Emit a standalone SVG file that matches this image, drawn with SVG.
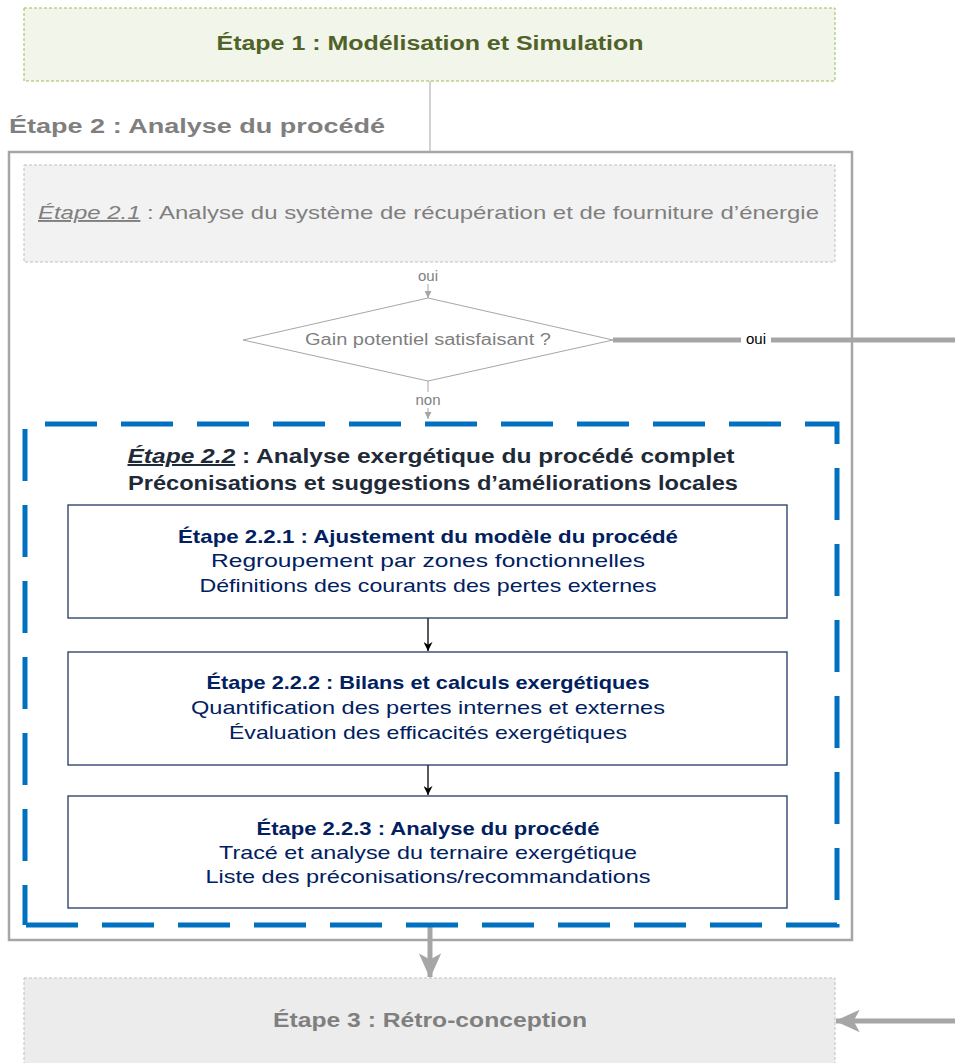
<svg xmlns="http://www.w3.org/2000/svg" width="955" height="1063" viewBox="0 0 955 1063">
<style>
.sans{font-family:"Liberation Sans","DejaVu Sans",sans-serif}
.gray{fill:#7f7f7f}
.navy{fill:#002060;font-family:"Liberation Sans","DejaVu Sans",sans-serif}
.dark{fill:#1f2a38;font-family:"Liberation Sans","DejaVu Sans",sans-serif;font-weight:bold}
.sub{fill:none;stroke:#1f3864;stroke-width:1.3}
.blue{fill:none;stroke:#0070c0;stroke-width:5;stroke-dasharray:52,24}
</style>
<defs>
<marker id="ah" viewBox="0 0 10 10" refX="10" refY="5" markerWidth="7" markerHeight="7" markerUnits="userSpaceOnUse" orient="auto"><path d="M0,0 L10,5 L0,10 z" fill="#a6a6a6"/></marker>
<marker id="ahb" viewBox="0 0 10 10" refX="10" refY="5" markerWidth="9" markerHeight="9" markerUnits="userSpaceOnUse" orient="auto"><path d="M0,0 L10,5 L0,10 L3,5 z" fill="#000"/></marker>
<marker id="ahg" viewBox="0 0 10 9" refX="9.5" refY="4.5" markerWidth="5" markerHeight="4.5" orient="auto"><path d="M0,0 L10,4.5 L0,9 L2.5,4.5 z" fill="#a6a6a6"/></marker>
</defs>
<rect width="955" height="1063" fill="#fff"/>

<g id="connectors">
<line x1="430" y1="81" x2="430" y2="151" stroke="#a6a6a6" stroke-width="1"/>
<line x1="428" y1="284" x2="428" y2="298" stroke="#a6a6a6" stroke-width="1" marker-end="url(#ah)"/>
<line x1="428" y1="381" x2="428" y2="392" stroke="#a6a6a6" stroke-width="1"/>
<line x1="428" y1="408" x2="428" y2="419" stroke="#a6a6a6" stroke-width="1" marker-end="url(#ah)"/>
<line x1="613" y1="340" x2="955" y2="340" stroke="#a6a6a6" stroke-width="5"/>
<rect x="741" y="331" width="30" height="16" fill="#fff"/>
<text x="756" y="344" text-anchor="middle" class="sans" font-size="15" fill="#000">oui</text>
<line x1="428" y1="618" x2="428" y2="651" stroke="#000" stroke-width="1.3" marker-end="url(#ahb)"/>
<line x1="428" y1="765" x2="428" y2="795" stroke="#000" stroke-width="1.3" marker-end="url(#ahb)"/>
<line x1="430" y1="926" x2="430" y2="977" stroke="#a6a6a6" stroke-width="5" marker-end="url(#ahg)"/>
<line x1="955" y1="1021" x2="836" y2="1021" stroke="#a6a6a6" stroke-width="5" marker-end="url(#ahg)"/>
<text x="428" y="281" text-anchor="middle" class="sans gray" font-size="15">oui</text>
<text x="428" y="405" text-anchor="middle" class="sans gray" font-size="15">non</text>
</g>

<g id="etape1">
<rect x="24" y="8" width="811" height="73" fill="#f2f5ea" stroke="#9bbb59" stroke-width="1" stroke-dasharray="3,2"/>
<text x="430" y="50" text-anchor="middle" class="sans" font-size="20" font-weight="bold" fill="#4f6228" textLength="427" lengthAdjust="spacingAndGlyphs">Étape 1 : Modélisation et Simulation</text>
</g>

<g id="etape2">
<text x="9" y="133" class="sans gray" font-size="20" font-weight="bold" textLength="376" lengthAdjust="spacingAndGlyphs">Étape 2 : Analyse du procédé</text>
<rect x="9" y="152" width="843" height="788" fill="none" stroke="#a6a6a6" stroke-width="2.5"/>
</g>

<g id="etape21">
<rect x="24" y="165" width="811" height="97" fill="#f2f2f2" stroke="#bfbfbf" stroke-width="1" stroke-dasharray="3,2"/>
<text x="38" y="219" class="sans gray" font-size="19" textLength="781" lengthAdjust="spacingAndGlyphs"><tspan font-style="italic" text-decoration="underline">Étape 2.1</tspan> : Analyse du système de récupération et de fourniture d’énergie</text>
</g>

<g id="decision">
<polygon points="243,340 428,298 613,340 428,381" fill="#fff" stroke="#a6a6a6" stroke-width="1"/>
<text x="428" y="345" text-anchor="middle" class="sans gray" font-size="16" textLength="246" lengthAdjust="spacingAndGlyphs">Gain potentiel satisfaisant ?</text>
</g>

<g id="etape22">
<path d="M25,424 H837 V925 H25" class="blue" stroke-dashoffset="56"/>
<path d="M25,424 V925" class="blue" stroke-dashoffset="71"/>
<text x="431" y="463" text-anchor="middle" class="dark" font-size="20" textLength="607" lengthAdjust="spacingAndGlyphs"><tspan font-style="italic" text-decoration="underline">Étape 2.2</tspan> : Analyse exergétique du procédé complet</text>
<text x="433" y="490" text-anchor="middle" class="dark" font-size="20" textLength="610" lengthAdjust="spacingAndGlyphs">Préconisations et suggestions d’améliorations locales</text>
</g>

<g id="etape221">
<rect x="68" y="505" width="719" height="113" fill="#fff" class="sub"/>
<text x="428" y="543" text-anchor="middle" class="navy" font-size="19" font-weight="bold" textLength="500" lengthAdjust="spacingAndGlyphs">Étape 2.2.1 : Ajustement du modèle du procédé</text>
<text x="428" y="567" text-anchor="middle" class="navy" font-size="19" textLength="434" lengthAdjust="spacingAndGlyphs">Regroupement par zones fonctionnelles</text>
<text x="428" y="592" text-anchor="middle" class="navy" font-size="19" textLength="457" lengthAdjust="spacingAndGlyphs">Définitions des courants des pertes externes</text>
</g>

<g id="etape222">
<rect x="68" y="652" width="719" height="113" fill="#fff" class="sub"/>
<text x="428" y="689" text-anchor="middle" class="navy" font-size="19" font-weight="bold" textLength="443" lengthAdjust="spacingAndGlyphs">Étape 2.2.2 : Bilans et calculs exergétiques</text>
<text x="428" y="714" text-anchor="middle" class="navy" font-size="19" textLength="474" lengthAdjust="spacingAndGlyphs">Quantification des pertes internes et externes</text>
<text x="428" y="739" text-anchor="middle" class="navy" font-size="19" textLength="398" lengthAdjust="spacingAndGlyphs">Évaluation des efficacités exergétiques</text>
</g>

<g id="etape223">
<rect x="68" y="796" width="719" height="112" fill="#fff" class="sub"/>
<text x="428" y="835" text-anchor="middle" class="navy" font-size="19" font-weight="bold" textLength="343" lengthAdjust="spacingAndGlyphs">Étape 2.2.3 : Analyse du procédé</text>
<text x="428" y="859" text-anchor="middle" class="navy" font-size="19" textLength="418" lengthAdjust="spacingAndGlyphs">Tracé et analyse du ternaire exergétique</text>
<text x="428" y="883" text-anchor="middle" class="navy" font-size="19" textLength="445" lengthAdjust="spacingAndGlyphs">Liste des préconisations/recommandations</text>
</g>

<g id="etape3">
<rect x="24" y="978" width="811" height="90" fill="#ececec" stroke="#bfbfbf" stroke-width="1" stroke-dasharray="3,2"/>
<text x="430" y="1027" text-anchor="middle" class="sans gray" font-size="20" font-weight="bold" textLength="314" lengthAdjust="spacingAndGlyphs">Étape 3 : Rétro-conception</text>
</g>
</svg>
